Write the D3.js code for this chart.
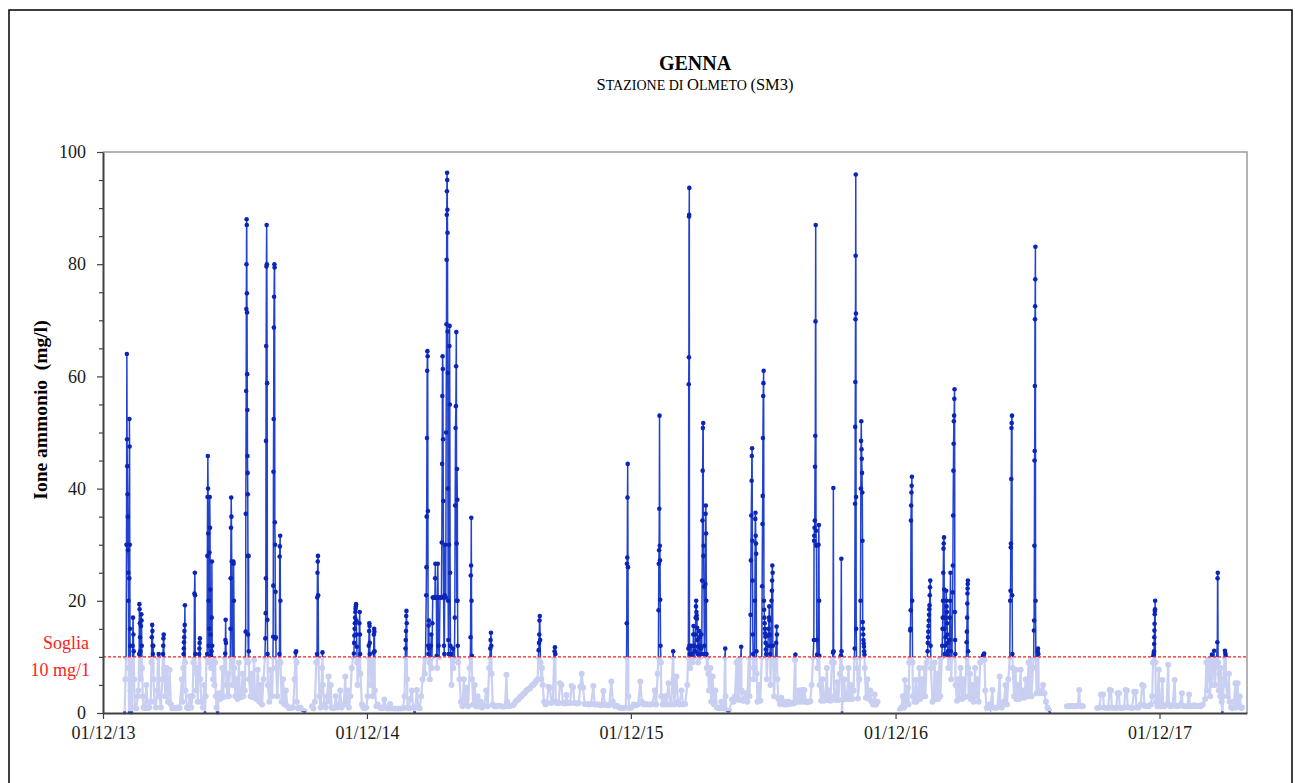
<!DOCTYPE html>
<html>
<head>
<meta charset="utf-8">
<script src="https://cdn.jsdelivr.net/npm/d3@7"></script>
<style>
body { margin: 0; background: #fff; }
svg { display: block; font-family: "Liberation Serif", "Times New Roman", serif; }
</style>
</head>
<body>
<div id="chart"></div>
<script>
// giorni dal 01/12/2013, ione ammonio in mg/l (null = dato mancante)
const dati2014 = [
  [28,0],[30,0],[31,6],[32,10],[32.5,30],[33,64],[33.3,48.8],[33.6,44],[34,39],[34.3,35],[34.6,29],[35,25],[35.2,20],[35.5,8],[36,0],[36.3,24],[36.5,52.4],[36.8,47.5],[37,30],[37.3,15],[37.6,12],[38,4],[39,0],[40,0],[40.5,7],[41,12],[41.5,17],[42,14],[42.5,11],[43,6],[44,1],
  [46,0.8],[48,3],[49,4],[50,10.5],[50.3,19.4],[50.6,18.5],[51,16],[51.3,13.5],[51.6,11],[52,6],[52.5,15.5],[53,17.6],[53.3,16.5],[53.6,12],[54,8],[55,3],[56,1],[58,0.8],[60,5],[62,0.9],[64,1],
  [66,2],[67,9],[67.5,13.5],[68,15.7],[68.3,14.6],[68.6,12],[69,10.5],[69.5,12],[70,6],[71,2],[73,1],[75,4],[76,10],[77,10.5],[78,3],[80,1],
  [82,6],[83,10.5],[83.3,12],[83.6,13.3],[84,14],[84.5,8],[86,3],[88,8],[90,2],[92,7.7],[94,1.5],[96,0.8],[98,0.9],[100,0.8],[103,1],[106,0.9],
  [109,6],[110,2],[111,8],[111.5,10.5],[111.8,11.5],[112,12.6],[112.3,13.5],[112.6,14.6],[113,15.7],[113.3,19.2],[113.6,9],[114,4],[116,1],[118,0.8],[120,3],[122,1],
  [124,3],[125,9],[126,10],[126.5,21.3],[127,25],[127.3,21],[127.6,10.5],[128,8],[129,4],[130,7],[131,2],[132,8],[133,10.5],[133.3,11.5],[133.6,12.5],[134,13.3],[134.5,6],[136,2],
  [138,1],[140,5],[141,0],[142,3],[143,10],
  [144,10.5],[144.3,28],[144.6,38.5],[145,45.8],[145.3,40],[145.6,32],[146,20],[146.3,12],[146.6,9],[147,15],[147.3,28.6],[147.6,38.5],[148,33],[148.3,22],[148.6,14],[149,10.2],[149.5,8],[150,11],[150.3,17],[150.6,27],[151,12],[152,6],
  [153,10],[154,5],[155,9],[156,3],[157,1],[158,0],[159,0],[160,3.5],
  [162,2.5],[164,3.5],[165,8],[166,2.8],[168,10],[169,10.6],[169.3,13],[169.6,16.6],[170,12.5],[170.5,5],[172,3],[173,7],[174,3],
  [176,10],[176.3,15],[176.6,24],[177,33],[177.3,38.4],[177.6,35],[178,27],[178.5,10],[179,5],[180,10],[180.3,27],[180.6,26.6],[181,20],[181.5,8],[183,3],[184,6],[186,2.5],[188,9],[189,3],[191,2.8],[193,7],[194,3],[196,4],
  [197,10],[197.3,14.5],[197.5,35.5],[198,57.4],[198.2,72],[198.4,80],[198.6,88],[198.8,87],[199,74.8],[199.2,71.4],[199.4,60.4],[199.6,54],[199.8,45.8],[200,42.8],[200.2,39],[200.4,28],[200.6,14],[201,9],[201.3,28],[201.6,11],[202,6],[204,3],[206,7],[207,2.8],[209,9.5],[210,3],[212,2.5],
  [214,7.7],[216,2],[218,5],[220,1.5],[222,6],[224,10],[224.5,13.3],[225,17.8],[225.2,24],[225.4,48.5],[225.6,65.4],[226,79.6],[226.3,87],[226.6,80],[227,58.8],[227.3,16.6],[227.6,10.5],[228,5],[230,2],[232,7.7],[234,3],
  [235,10],[235.3,13.6],[235.5,22.7],[235.7,43],[236,52.4],[236.3,68.7],[236.6,74.2],[237,80],[237.3,79.4],[237.6,34],[238,30],[238.3,13.3],[238.6,21.6],[239,13.5],[239.5,8],[241,3],[243,9],
  [244,10.5],[244.3,27.9],[244.6,29.7],[245,31.6],[245.3,20],[245.6,9],[247,2],[249,6],[251,1.5],[253,4],[255,1.2],[257,0.9],[259,0.9],
  [261,1],[263,1],[265,6],[266,10],[266.5,10.8],[267,11],[267.5,9],[268,2],[270,0.8],[273,1],[275,0.5],[277,0.3],[279,0.3],[281,0.2],[283,null],
  [289,1.2],[291,0.8],[293,2],[295,9],[296,10.5],[296.3,20.6],[296.6,25],[297,27],[297.3,28],[297.6,21],[298,10],[299,3],[301,1],[303,8],[303.5,10.8],[304,5],[306,1.5],[308,1],
  [310,3],[312,6.5],[313,2],[315,5],[316,1],[318,0.8],[320,1],[322,3],[324,1],[326,1.2],[328,4],[330,1],[333,1.5],[335,6.5],[336,2],[338,4],[340,1],[342,3],[344,8],
  [346,10],[347,10.6],[347.3,12.5],[347.6,13.8],[348,15],[348.3,16],[348.6,17],[349,18],[349.3,18.6],[349.6,19],[350,19.4],[350.3,16.5],[350.6,14],[351,11.8],[351.5,9],[352,5],[354,10],[354.5,16],[355,18],[355.3,14],[355.6,10.5],[356,7],[358,1.5],[360,1],[362,0.8],[364,1]
];

const dati2015 = [
  [366,3],[367,10],[367.5,12],[368,14.6],[368.3,16],[368.6,15.5],[368.9,12.5],[369,10.5],[370,5],[372,9],[373,3],[374,10],[374.3,10.8],[374.6,14],[375,15],[375.3,14.5],[375.6,11],[376,4],[378,1.2],
  [380,1.5],[383,1],[386,0.8],[389,2.4],[391,1],[394,0.7],[397,1.6],[400,0.7],[403,0.8],[406,0.6],[409,0.8],[412,0.7],[415,0.9],[417,3],
  [418,10],[418.3,11.5],[418.6,13],[419,14.6],[419.3,17.3],[419.6,18.2],[420,16],[420.5,6],[421,1],
  [423,0.8],[425,2.5],[427,4],[429,1],[431,0],[432,1],[434,4.1],[436,1],[438,0.8],[440,3],
  [442,6],[444,10],[445,7],[446,10],[447,21],[447.3,26],[447.6,35],[448,49],[448.3,61],[448.6,64.5],[449,63.6],[449.3,36],[449.6,12],[450,10.5],[450.3,15.6],[450.6,16.5],[451,11.5],[451.5,9],[452,6],[453,10],[453.5,12],[454,14],[454.5,8],
  [455,10],[455.5,16],[456,20.6],[457,20.6],[458,20.6],[459,20.6],[459.3,24],[459.6,26.6],[460,20.6],[461,20.6],[461.5,10.2],[462,8],[462.5,20.6],[463,26.6],[463.5,20.6],[464,12],[465,10],[466,20.6],[467,20.6],[468,20.6],
  [468.5,30.4],[469,44.4],[469.3,56.5],[469.6,63.6],[470,61.3],[470.3,48.8],[470.6,37.8],[471,20.6],[471.5,12],[472,10.5],[472.5,21],[473,30],[474,20.6],
  [474.5,50],[475,69.3],[475.2,80.8],[475.4,88.8],[475.6,93],[475.8,96.3],[476,95],[476.2,89.7],[476.4,85.6],[476.6,68],[476.8,60.6],[477,40],[477.3,20],[477.6,13],[478,10.5],[478.5,30],[479,65.4],[479.3,69],[479.6,55],[480,25],[480.5,12],[481,10.5],[482,5],[483,10],[484,11.5],[484.5,8],
  [486,10],[486.5,17],[487,37],[487.5,50.8],[488,54.7],[488.3,61.8],[488.6,67.9],[489,30.2],[489.3,20],[489.6,43.5],[490,38],[490.3,20],[490.6,12],[491,9],[492,10],[493,6],[495,2],[497,1.2],
  [499,6],[501,1.5],[503,4.5],[505,1.2],[507,8],[508,10],[508.3,13.5],[508.6,24.5],[509,26.3],[509.3,34.8],[509.6,20],[510,10.2],[510.5,6],[512,1.5],[514,5],[516,1.2],[518,3],[520,1.2],[522,2],[524,1],[527,1.3],[530,4],[532,1.2],
  [534,8],[535,10],[535.5,11.5],[536,13],[536.5,14.3],[537,12],[537.5,7],[539,1.5],[541,1.2],[544,1.2],[547,1.3],[550,1.2],[553,1.1],[556,1.2],[558,6.8],[559,2],[561,1.2],[564,1.3],
  [567,1.4],[569,1.7],[571,2.1],[573,2.3],[575,2.5],[577,2.9],[579,3],[581,3.4],[583,3.5],[585,3.9],[587,4.2],[589,4.3],[591,4.5],[593,4.9],[595,5],[597,5.3],[599,5.7],[601,6],
  [602,10],[602.5,11.2],[603,12.5],[603.3,14],[603.6,16.5],[604,17.3],[604.5,13],[605,9],[606,6],[607,8],[608,5],[610,2],[612,1.5],
  [614,1.8],[616,4.7],[618,4.5],[620,1.8],[622,2],[624,10],[624.5,11],[625,11.7],[625.5,10.5],[626,2],[628,1.8],[630,1.8],[632,5.3],[634,5],[636,1.8],[639,1.7],[641,3.2],[643,1.8],[646,1.8],[648,4.8],[650,4.6],[652,1.8],[655,1.7],[658,1.8],[660,4.7],[662,7],[664,4.5],[666,1.6],[669,1.6],[672,1.5],[675,1.6],[678,4.8],[680,1.5],[683,1.5],
  [686,1.5],[689,1.4],[692,3.9],[694,1.5],[697,1.4],[700,1.4],[703,5.6],[705,2],[708,1.2],[711,1.3],[714,1],[717,0.9],[720,0.9],[723,1],
  [724,10],[724.3,16],[724.6,26.6],[725,27.7],[725.3,38.4],[725.6,44.4],[726,26],[726.5,3],[728,0.9]
];

const dati2016 = [
  [731,1],[734,1.5],[737,1.4],[740,1.5],[743,5.6],[745,2],[748,1.5],[751,1.6],[754,1.5],[757,1.5],[760,1.6],[763,4],[765,1.5],[767,7],
  [768,10],[768.3,18.3],[768.6,26.6],[769,29],[769.3,36.4],[769.6,53],[770,29.8],[770.3,27.2],[770.6,20.2],[771,12],[771.5,9],[772,3],[774,1.5],
  [777,3],[779,1.5],[782,5.3],[784,1.5],[786,1.6],[788,10],[788.5,11],[789,6],[790,1.5],[793,6.5],[795,2],[797,1.5],[800,4],[802,1.5],[805,1.6],[808,5],[809,10],
  [809.5,11.5],[810,58.6],[810.2,63.4],[810.4,88.5],[810.6,88.8],[810.8,93.6],[811,12],[811.5,10.5],[812,8],[813,10],[813.5,12],[814,10.5],[815,9],[816,10],[816.3,14],[816.6,15.5],[817,12],[818,10],
  [819,11],[819.3,14],[819.6,17],[820,19],[820.3,20],[820.6,18],[821,17.4],[821.3,16.8],[821.6,15.2],[822,13],[822.3,11.8],[822.6,10.5],[823,9],[824,10],[824.5,14.6],[825,13.5],[825.5,12],[826,10],[827,11.5],[827.5,14],[828,10.5],
  [828.5,23.6],[829,34.3],[829.3,43.2],[829.6,50.8],[830,51.7],[830.3,28],[830.6,29.8],[831,22.5],[831.5,12],[832,10.5],[833,23],[833.3,35.5],[833.6,37],[834,32],[834.3,20],[834.6,10.5],[835,8],[836,10],[837,7],[838,4],
  [840,8],[841,2],[843,6.5],[845,1.5],[847,4],[849,1],[851,0.9],[853,0.8],[855,2],[857,0.8],[859,1],[860,10],[860.5,11.5],[861,3],[862,0.5],[864,0.3],[866,0.3],
  [870,2.4],[872,2],[874,3],[876,9],[877,2.5],[879,9.5],[880,2.3],[882,10],[882.5,11.8],[883,4],[885,2.2],[887,2.5],[889,3.5],[891,2],[893,10],[894,3],
  [895,10],[895.5,17.5],[896,27.2],[896.5,35.2],[897,41.4],[897.3,45.8],[897.6,47.2],[898,30.7],[898.3,23.6],[898.6,14],[899,10.5],[899.5,6],[900,8],
  [901,10],[901.5,20],[902,34.6],[902.3,35.7],[902.6,31.6],[903,30.2],[903.3,28.4],[903.6,11],[904,7],[905,2],[907,5],[909,2.2],
  [911,10],[911.5,22.6],[912,33.7],[912.3,38.7],[912.6,49],[913,56.5],[913.3,58.8],[913.6,61],[914,20],[914.3,18.4],[914.6,17],[915,16],[915.3,15],[915.6,14.2],[916,13.6],[916.3,12.5],[916.6,11.3],[917,10.5],[918,6],
  [919,10],[919.5,12],[920,13.8],[920.5,15],[921,17],[921.3,19],[921.6,16.5],[922,14],[922.3,12],[922.6,10.5],[923,5],[924,10],[924.5,20],[925,21.8],[925.3,23.6],[925.6,26.3],[926,25],[926.3,12],[926.6,10],[928,3],
  [930,10],[931,12.5],[931.5,15.4],[932,14],[932.5,6],[934,2.5],[936,1.6],
  [938,2.7],[940,1.8],[942,1.5],[944,2],[946,1.5],[948,2],[950,1.6],[952,1.8],[955,1.7],[957,9.5],[957.5,10.4],[958,2],[960,2],[962,4],[964,2],[966,4.1],[968,2],[970,4.1],[972,2],[974,1.9],[976,2],[978,2.1],[980,5],
  [982,10],[983,13],[983.3,30.7],[983.6,31.6],[984,33],[984.3,34.3],[984.6,43.9],[985,49.4],[985.3,69.8],[985.6,87],[986,32.5],[986.3,30],[986.6,29.8],[987,13],[987.5,10.4],[988,8],[989,10],[989.5,30],[990,33.5],[990.3,20],[990.6,10.2],[991,5],
  [993,2.2],[995,6],[997,2.2],[999,3],[1001,8],[1002,2.3],[1004,4],[1006,2.2],[1008,9],[1009,10],[1009.5,10.8],[1010,40.1],[1010.3,11],[1010.6,9],[1011,3],[1013,2.3],[1015,5.5],[1017,2.3],[1019,7],
  [1020,10],[1020.5,10.3],[1021,27.5],[1021.3,11],[1021.6,8],[1022,0],[1023,2.4],[1025,6],[1027,2.5],[1029,3],[1031,8],[1032,2.5],[1034,5],[1036,2.5],[1038,4],
  [1039,10],[1039.5,11.5],[1040,37.3],[1040.2,51],[1040.4,59],[1040.6,70.2],[1040.8,81.5],[1041,96],[1041.2,71.2],[1041.4,38.5],[1041.6,15],[1042,10],[1043,8],[1044,2.6],[1046,6],
  [1047,10],[1047.5,20],[1048,40],[1048.3,48.5],[1048.6,52],[1049,47],[1049.3,45.3],[1049.6,42.8],[1050,39.3],[1050.3,30.7],[1050.6,16.2],[1051,15],[1051.3,14],[1051.6,13],[1052,12.4],[1052.3,11.8],[1052.6,11],[1053,10.4],[1053.5,8],
  [1055,2.7],[1057,6],[1059,2.5],[1061,4],[1063,2],[1065,1.5],[1067,3.3],[1069,1.5],[1071,2],[1072,null]
];

const dati2017 = [
  [1102,0.6],[1104,1],[1106,3],[1108,1],[1109,5.9],[1111,2],[1113,4.5],[1114,1.5],[1115,9],
  [1116,10],[1116.3,14.7],[1116.6,15],[1117,18.3],[1117.3,34.3],[1117.6,37],[1118,39.3],[1118.3,40.5],[1118.6,42.1],[1119,20],[1119.5,9],[1120,3],[1122,2],[1124,5.9],[1125,2],[1127,3.5],[1129,8],[1130,2.5],[1132,6],[1134,3],[1136,8],[1137,3],[1139,9],
  [1140,10],[1140.3,11],[1140.6,12.5],[1141,13.5],[1141.3,14.5],[1141.6,15.5],[1142,16.5],[1142.3,17.5],[1142.6,18.5],[1143,19.2],[1143.3,21],[1143.6,22.4],[1144,23.6],[1144.5,12],[1145,8],[1147,2],[1149,3],[1150,9],
  [1152,2.5],[1154,7],[1155,2.5],[1157,10],[1158,3],[1160,10],[1160.5,12],[1161,15],[1161.3,17],[1161.6,20],[1162,25],[1162.3,29.3],[1162.6,30.2],[1163,31.3],[1163.3,22],[1163.6,15],[1164,10.5],
  [1164.5,12],[1165,13.5],[1165.5,17],[1166,21.8],[1166.3,20],[1166.6,19],[1167,18],[1167.3,16],[1167.6,14],[1168,12.5],[1168.3,11],[1168.6,10.3],[1169,8],[1170,10],[1170.5,13],[1171,17],[1171.5,20],[1172,25],[1172.5,11],[1173,6],
  [1174,10],[1175,21.5],[1175.3,26.3],[1175.6,35.2],[1176,43.2],[1176.3,48],[1176.6,52],[1177,53],[1177.3,56],[1177.6,57.7],[1178,18],[1178.3,13],[1178.6,10.5],[1179,5],[1181,2.2],[1183,6],[1184,2.5],
  [1186,8],[1188,2.5],[1190,6],[1192,2.8],[1194,10],[1194.3,12.6],[1194.6,14.5],[1195,17],[1195.2,19.5],[1195.4,21.3],[1195.6,22.2],[1195.8,23],[1196,23.6],[1196.3,11],[1196.6,8],[1197,3],
  [1199,7],[1200,2.5],[1202,5],[1204,2],[1206,8],[1207,3],[1209,6],[1211,2],[1213,9],[1215,10],[1216,10],[1217,10.2],[1218,10.4],[1218.5,10.6],[1219,9.5],[1220,4],
  [1222,0.9],[1225,1.5],[1227,0.9],[1230,4.1],[1231,1],[1234,0.9],[1237,1],[1240,6.5],[1241,1.5],[1243,1],[1246,2],
  [1248,5],[1250,1.5],[1252,6],[1254,10],[1254.5,20],[1255,21.8],[1255.3,29.5],[1255.6,30.2],[1256,41.7],[1256.3,50.8],[1256.6,51.7],[1257,53],[1257.3,21],[1257.6,10.5],[1258,8],
  [1260,3],[1262,7.7],[1263,2.5],[1265,5],[1267,2.5],[1269,7.7],[1270,3],[1272,4],[1274,2.7],[1276,6],[1278,3],[1280,9],[1281,3],[1283,10],[1284,3],[1286,8],
  [1287,10],[1287.3,14.7],[1287.6,16.5],[1288,29.8],[1288.2,45],[1288.4,46.7],[1288.6,58.3],[1288.8,70.2],[1289,72.5],[1289.2,77.3],[1289.4,83.1],[1289.6,20],[1290,10],[1291,3.5],
  [1292,10],[1292.5,11],[1293,11.5],[1293.5,10.5],[1294,3.5],[1296,4],[1298,3.5],[1300,5],[1302,3.5],[1304,2],[1306,1],[1308,0.5],[1310,0],[1311,null],
  [1333,1.2],[1336,1.2],[1339,1.3],[1342,1.2],[1345,1.2],[1348,1.3],[1350,4.1],[1351,1.4],[1353,1.2],[1355,1.2],[1356,null],
  [1375,0.9],[1378,1],[1380,3.3],[1383,3.3],[1384,1],[1387,0.9],[1390,0.9],[1392,4.1],[1394,4],[1395,1],[1398,0.9],[1401,0.9],[1403,3.5],[1405,3.5],[1406,1],[1409,0.9],[1412,1],[1414,4.1],[1416,4],[1417,1],
  [1420,1],[1423,0.9],[1426,3.8],[1428,3.8],[1429,1],[1432,1],[1435,1.5],[1437,5],[1439,4.8],[1440,1.3],[1443,1.2],[1446,1.2],[1449,1.5],[1451,3],[1452,9],
  [1452.5,10.1],[1453,10.4],[1453.2,10.7],[1453.4,11],[1453.6,12.3],[1453.8,13.5],[1454,14.7],[1454.2,15.9],[1454.4,17.6],[1454.6,18.2],[1454.8,18.5],[1455,20],[1455.3,9],[1456,2],[1458,1.2],[1460,7.7]
];

const dati2018 = [
  [1461,1.5],[1463,1.2],[1465,5.9],[1466,1.3],[1468,1.2],[1471,1.5],[1473,8.6],[1474,1.5],[1476,1.2],[1479,1.3],[1482,5.9],[1483,1.3],[1486,1.2],[1489,1.4],[1492,3.5],[1493,1.3],[1496,1.2],[1499,1.2],[1502,3.3],[1503,1.2],
  [1506,1.2],[1509,1.4],[1512,1.2],[1515,1.3],[1518,1.2],[1521,1.5],[1524,2.5],[1526,9],[1527,4],[1528,10],[1529,6],[1530,9.5],[1531,3],[1533,10],[1533.5,10.4],[1534,5],[1535,9],[1536,10],[1536.5,11.1],[1537,8],[1538,5],[1539,9],
  [1540,10],[1541,12.6],[1541.3,24],[1541.6,25],[1542,9],[1543,4],[1544,7],[1545,3],[1546,8],[1547,2],[1548,0],[1549,3],[1550,6],[1551,10],[1551.5,11.1],[1552,10.6],[1552.5,10.2],[1553,5],
  [1555,3],[1557,7],[1558,2],[1560,1],[1562,0.9],[1564,2],[1566,5.3],[1567,1],[1569,5.3],[1570,1.5],[1572,3],[1574,0.9],[1575,1]
];

const yTicks = [0, 20, 40, 60, 80, 100];
const xTickLabels = ["01/12/13", "01/12/14", "01/12/15", "01/12/16", "01/12/17"];
const soglia = 10;

const width = 1295, height = 783;
const plot = { left: 103, right: 1247, top: 152, bottom: 713 };
const start = new Date(2013, 11, 1);
const dayMs = 864e5;

const serie = dati2014.concat(dati2015, dati2016, dati2017, dati2018)
  .map(d => ({ date: new Date(start.getTime() + d[0] * dayMs), v: d[1] }));

const x = d3.scaleTime()
  .domain([start, new Date(2018, 3, 1)])
  .range([plot.left, plot.right]);
const y = d3.scaleLinear().domain([0, 100]).range([plot.bottom, plot.top]);
const parseTick = d3.timeParse("%d/%m/%y");

const svg = d3.select("#chart").append("svg")
  .attr("width", width)
  .attr("height", height);

svg.append("rect").attr("width", width).attr("height", height).attr("fill", "#fff");
// cornice esterna
svg.append("rect")
  .attr("x", 9).attr("y", 10).attr("width", 1283).attr("height", 790)
  .attr("fill", "none").attr("stroke", "#000").attr("stroke-width", 1.5);

// titolo
svg.append("text").attr("x", 695).attr("y", 70).attr("text-anchor", "middle")
  .attr("font-size", 20).attr("font-weight", "bold").text("GENNA");
const sub = svg.append("text").attr("x", 695).attr("y", 90).attr("text-anchor", "middle");
[["S", 16.5], ["TAZIONE DI ", 14], ["O", 16.5], ["LMETO ", 14], ["(SM3)", 16.5]]
  .forEach(([t, fs]) => sub.append("tspan").attr("font-size", fs).attr("xml:space", "preserve").text(t));

// bordo area grafico
svg.append("path")
  .attr("d", `M${plot.left},${plot.top}H${plot.right}V${plot.bottom}`)
  .attr("fill", "none").attr("stroke", "#9a9a9a").attr("stroke-width", 1.5);

const defs = svg.append("defs");
defs.append("clipPath").attr("id", "sopra").append("rect")
  .attr("x", plot.left).attr("y", plot.top - 5)
  .attr("width", plot.right - plot.left).attr("height", y(soglia) - plot.top + 5);
defs.append("clipPath").attr("id", "sotto").append("rect")
  .attr("x", plot.left).attr("y", y(soglia))
  .attr("width", plot.right - plot.left).attr("height", y(0.3) - y(soglia));
defs.append("clipPath").attr("id", "zero").append("rect")
  .attr("x", plot.left).attr("y", y(0.3))
  .attr("width", plot.right - plot.left).attr("height", 6);

const line = d3.line()
  .defined(d => d.v != null)
  .x(d => x(d.date))
  .y(d => y(d.v));

const punti = serie.filter(d => d.v != null);

// parte sotto soglia (lilla)
const gBasso = svg.append("g").attr("clip-path", "url(#sotto)");
gBasso.append("path").datum(serie)
  .attr("d", line).attr("fill", "none")
  .attr("stroke", "#cad0f1").attr("stroke-width", 2.2);
gBasso.selectAll("circle").data(punti.filter(d => d.v <= soglia && d.v > 0.25))
  .join("circle")
  .attr("cx", d => x(d.date)).attr("cy", d => y(d.v)).attr("r", 3)
  .attr("fill", "#c8cff1");

// parte sopra soglia (blu)
const gAlto = svg.append("g").attr("clip-path", "url(#sopra)");
gAlto.append("path").datum(serie)
  .attr("d", line).attr("fill", "none")
  .attr("stroke", "#2242cf").attr("stroke-width", 1.5);
gAlto.selectAll("circle").data(punti.filter(d => d.v > soglia))
  .join("circle")
  .attr("cx", d => x(d.date)).attr("cy", d => y(d.v)).attr("r", 2.3)
  .attr("fill", "#0b25b8");

const gZero = svg.append("g").attr("clip-path", "url(#zero)");
gZero.append("path").datum(serie)
  .attr("d", line).attr("fill", "none")
  .attr("stroke", "#2242cf").attr("stroke-width", 2.5);

// soglia
svg.append("line")
  .attr("x1", plot.left).attr("x2", plot.right)
  .attr("y1", y(soglia)).attr("y2", y(soglia))
  .attr("stroke", "#ff1a1a").attr("stroke-width", 1.3)
  .attr("stroke-dasharray", "3,2");
svg.append("text").attr("x", 89).attr("y", y(soglia) - 8)
  .attr("text-anchor", "end").attr("font-size", 18).attr("fill", "#ff2020").text("Soglia");
svg.append("text").attr("x", 90).attr("y", y(soglia) + 19)
  .attr("text-anchor", "end").attr("font-size", 18).attr("fill", "#ff2020").text("10 mg/1");

// asse y
svg.append("g")
  .attr("transform", `translate(${plot.left},0)`)
  .call(d3.axisLeft(y).tickValues(d3.range(0, 101, 5).filter(v => v % 20 !== 0))
    .tickSize(4).tickFormat(""))
  .call(g => g.select(".domain").remove())
  .call(g => g.selectAll("line").attr("stroke", "#404040").attr("stroke-width", 1.2));
svg.append("g")
  .attr("transform", `translate(${plot.left},0)`)
  .call(d3.axisLeft(y).tickValues(yTicks).tickSize(6).tickSizeOuter(0).tickPadding(11))
  .call(g => g.select(".domain").attr("stroke", "#404040").attr("stroke-width", 2))
  .call(g => g.selectAll("line").attr("stroke", "#404040").attr("stroke-width", 1.2))
  .call(g => g.selectAll("text").attr("font-size", 18).attr("fill", "#1a1a1a")
    .attr("font-family", "Liberation Serif, serif"));

// asse x
svg.append("g")
  .attr("transform", `translate(0,${plot.bottom})`)
  .call(d3.axisBottom(x).tickValues(xTickLabels.map(parseTick))
    .tickFormat(d3.timeFormat("%d/%m/%y")).tickSize(6).tickSizeOuter(0).tickPadding(7))
  .call(g => g.select(".domain").attr("stroke", "#404040").attr("stroke-width", 2))
  .call(g => g.selectAll("line").attr("stroke", "#404040").attr("stroke-width", 1.2))
  .call(g => g.selectAll("text").attr("font-size", 18).attr("fill", "#1a1a1a")
    .attr("font-family", "Liberation Serif, serif"));

// etichetta asse y
svg.append("text")
  .attr("transform", "translate(47,410) rotate(-90)")
  .attr("text-anchor", "middle").attr("font-size", 19.5).attr("font-weight", "bold")
  .attr("xml:space", "preserve")
  .text("Ione ammonio  (mg/l)");
</script>
</body>
</html>
